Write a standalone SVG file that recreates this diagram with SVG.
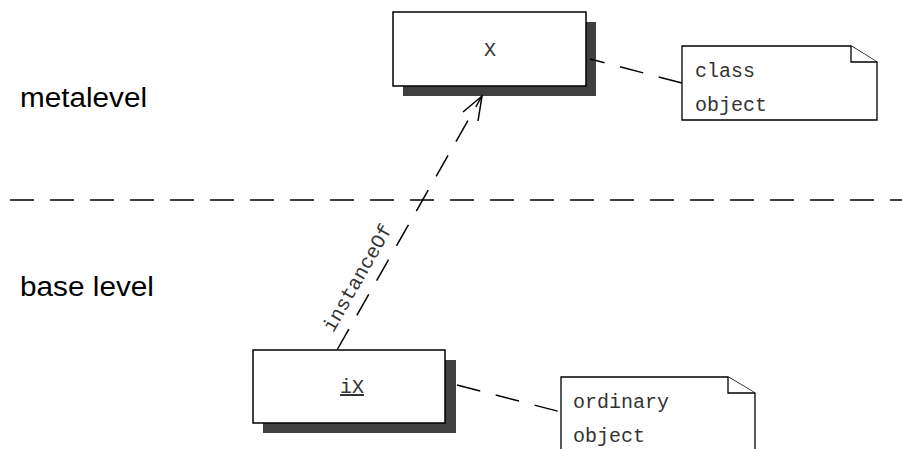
<svg xmlns="http://www.w3.org/2000/svg" width="902" height="449" viewBox="0 0 902 449">
<style>
.box{fill:#fff;stroke:#000;stroke-width:1.5}
.shadow{fill:#404040;stroke:none}
.note{fill:#fff;stroke:#000;stroke-width:1.3}
.mono{font-family:"Liberation Mono","Courier New",monospace;font-size:20px;fill:#333}
.sans{font-family:"Liberation Sans",Arial,sans-serif;font-size:27px;fill:#000}
.dash{fill:none;stroke:#000;stroke-width:1.5;stroke-dasharray:24 16}
</style>
<rect width="902" height="449" fill="#fff"/>
<text class="sans" x="20" y="107" textLength="127" lengthAdjust="spacingAndGlyphs">metalevel</text>
<text class="sans" x="20" y="296" textLength="134" lengthAdjust="spacingAndGlyphs">base level</text>
<line x1="10" y1="200" x2="902" y2="200" class="dash"/>
<g id="X">
<rect class="shadow" x="403" y="22" width="193" height="74"/>
<rect class="box" x="393" y="12" width="193" height="74"/>
<text class="mono" x="490" y="56" text-anchor="middle">X</text>
</g>
<g id="iX">
<rect class="shadow" x="263" y="360" width="193" height="73"/>
<rect class="box" x="253" y="350" width="192" height="73"/>
<text class="mono" x="352" y="393" text-anchor="middle" text-decoration="underline">iX</text>
</g>
<g id="note-class">
<path class="note" d="M682 46 H851 L877 62 V120 H682 Z"/>
<path class="note" d="M851 46 V62 H877" fill="none"/>
<text class="mono" x="695" y="77">class</text>
<text class="mono" x="695" y="111">object</text>
</g>
<g id="note-ordinary">
<path class="note" d="M561 377 H728 L755 393 V452 H561 Z"/>
<path class="note" d="M728 377 V393 H755" fill="none"/>
<text class="mono" x="573" y="408">ordinary</text>
<text class="mono" x="573" y="442">object</text>
</g>
<g id="connectors">
<line class="dash" x1="590" y1="59" x2="682" y2="83" stroke-dashoffset="9"/>
<line class="dash" x1="457" y1="385" x2="561" y2="412"/>
<line class="dash" x1="337" y1="350" x2="482" y2="96"/>
<path d="M463 112 L482 96 L478 121" fill="none" stroke="#000" stroke-width="1.5"/>
<text class="mono" x="363" y="281" text-anchor="middle" transform="rotate(-60.3 363 281)">instanceOf</text>
</g>
</svg>
